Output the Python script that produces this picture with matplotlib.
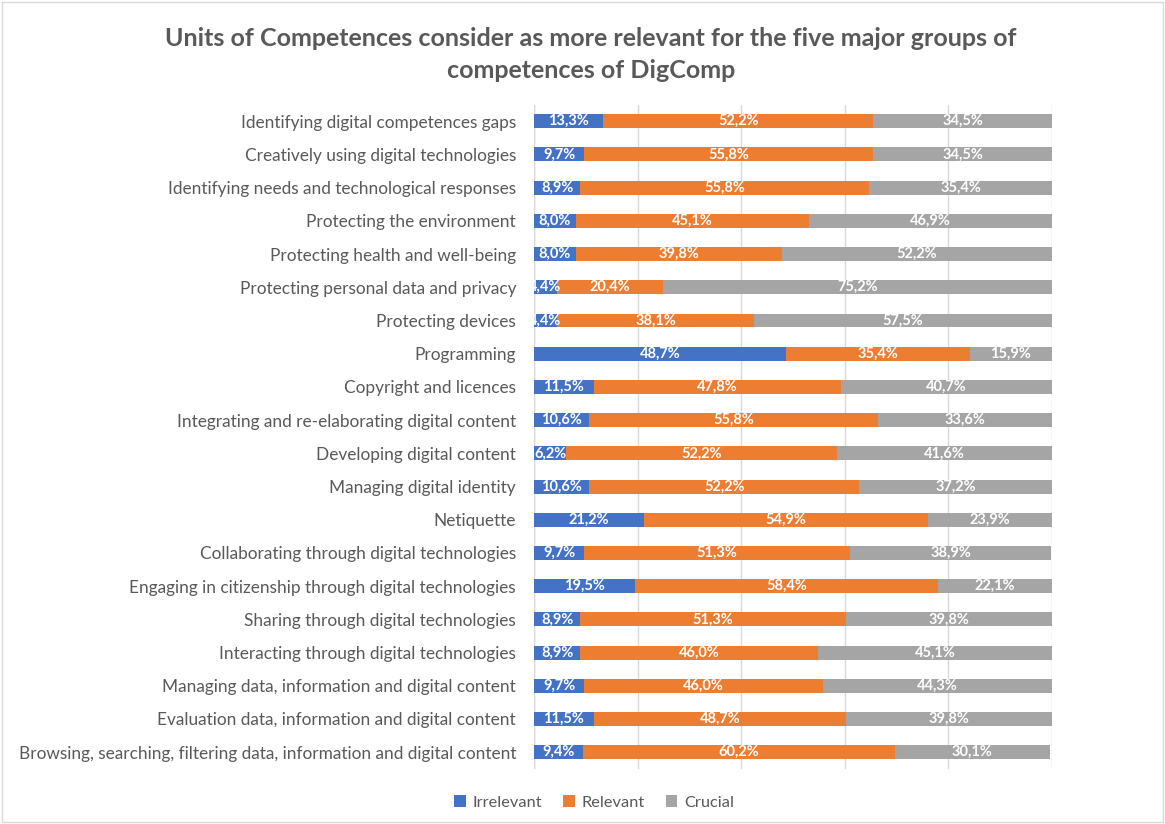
import matplotlib.pyplot as plt
from matplotlib.patches import Rectangle

plt.rcParams['font.family'] = ['Lato', 'DejaVu Sans']

# categories listed bottom to top (as drawn)
categories = [
    "Browsing, searching, filtering data, information and digital content",
    "Evaluation data, information and digital content",
    "Managing data, information and digital content",
    "Interacting through digital technologies",
    "Sharing through digital technologies",
    "Engaging in citizenship through digital technologies",
    "Collaborating through digital technologies",
    "Netiquette",
    "Managing digital identity",
    "Developing digital content",
    "Integrating and re-elaborating digital content",
    "Copyright and licences",
    "Programming",
    "Protecting devices",
    "Protecting personal data and privacy",
    "Protecting health and well-being",
    "Protecting the environment",
    "Identifying needs and technological responses",
    "Creatively using digital technologies",
    "Identifying digital competences gaps",
]
irrelevant = [9.4, 11.5, 9.7, 8.9, 8.9, 19.5, 9.7, 21.2, 10.6, 6.2,
              10.6, 11.5, 48.7, 4.4, 4.4, 8.0, 8.0, 8.9, 9.7, 13.3]
relevant = [60.2, 48.7, 46.0, 46.0, 51.3, 58.4, 51.3, 54.9, 52.2, 52.2,
            55.8, 47.8, 35.4, 38.1, 20.4, 39.8, 45.1, 55.8, 55.8, 52.2]
crucial = [30.1, 39.8, 44.3, 45.1, 39.8, 22.1, 38.9, 23.9, 37.2, 41.6,
           33.6, 40.7, 15.9, 57.5, 75.2, 52.2, 46.9, 35.4, 34.5, 34.5]
series = [("Irrelevant", irrelevant, "#4472C4"),
          ("Relevant", relevant, "#ED7D31"),
          ("Crucial", crucial, "#A5A5A5")]

fig = plt.figure(figsize=(11.65, 8.24), dpi=100)
ax = fig.add_axes([0.4585, 0.067, 0.4445, 0.806])

y = range(len(categories))
left = [0.0] * len(categories)
for name, vals, color in series:
    bars = ax.barh(y, vals, left=left, height=0.42, color=color, label=name, zorder=2)
    labels = [f"{v:.1f}%".replace(".", ",") for v in vals]
    ax.bar_label(bars, labels=labels, label_type="center", color="white",
                 fontsize=10.5, fontweight="bold", clip_on=True)
    left = [l + v for l, v in zip(left, vals)]

ax.set_xlim(0, 100)
ax.set_ylim(-0.5, len(categories) - 0.5)
ax.set_xticks([0, 20, 40, 60, 80, 100])
ax.set_xticklabels([])
ax.tick_params(axis="x", length=0)
ax.tick_params(axis="y", length=0, labelsize=12.4, labelcolor="#595959", pad=13)
ax.set_yticks(list(y))
ax.set_yticklabels(categories)
ax.grid(axis="x", color="#D9D9D9", linewidth=1, zorder=0)
for s in ax.spines.values():
    s.set_visible(False)
ax.axvline(0, color="#D9D9D9", linewidth=1, zorder=1)

fig.suptitle("Units of Competences consider as more relevant for the five major groups of\ncompetences of DigComp",
             x=0.507, y=0.967, fontsize=18, fontweight="bold", color="#595959",
             linespacing=1.45)

ax.legend(loc="center", bbox_to_anchor=(0.51, 0.026), bbox_transform=fig.transFigure,
          ncol=3, frameon=False, fontsize=11.8, labelcolor="#595959",
          handlelength=0.7, handleheight=0.7, handletextpad=0.4, columnspacing=1.3)

fig.patches.append(Rectangle((0.002, 0.002), 0.996, 0.996, transform=fig.transFigure,
                             fill=False, edgecolor="#D9D9D9", linewidth=1))

fig.savefig("out.png", dpi=100)
